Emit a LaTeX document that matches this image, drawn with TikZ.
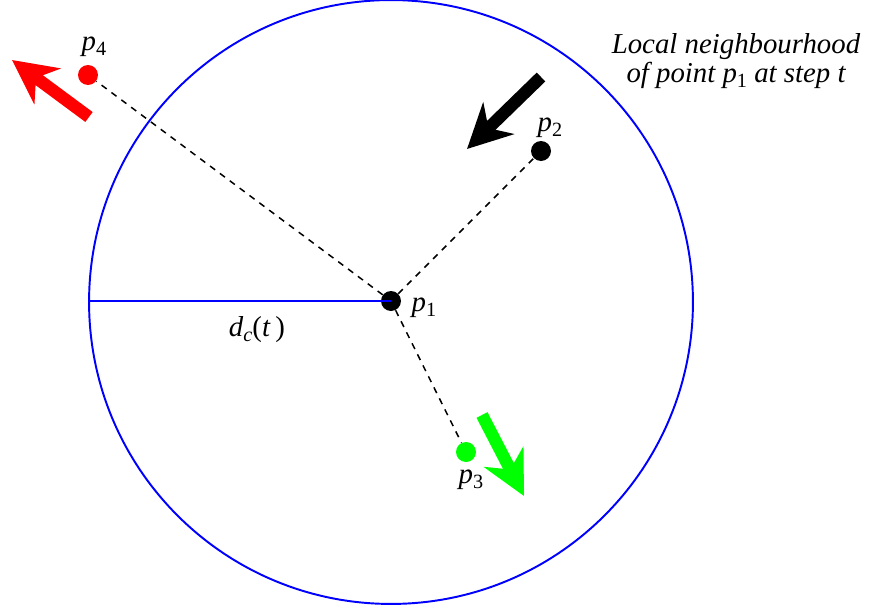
\documentclass[tikz,border=0pt]{standalone}
\usepackage{fontspec}
\setmainfont{Liberation Serif}
\usetikzlibrary{arrows.meta,positioning}

\newcommand{\ptname}[1]{\textit{p}\raisebox{-0.35ex}{\fontsize{11.5}{12}\selectfont\upshape #1}}

\begin{document}
\begin{tikzpicture}[
    x=0.02cm, y=-0.02cm,
    every node/.style={font=\fontsize{16.4}{16.5}\selectfont},
    dot/.style={circle, inner sep=0pt, minimum size=0.4cm},
    lbl/.style={inner sep=1pt},
    link/.style={draw, line width=0.85pt, dash pattern=on 3.6pt off 3.4pt},
    move/.style={line width=7pt, -{Stealth[length=25pt, width=25pt, inset=8pt]}},
]
    \useasboundingbox (0,0) rectangle (873,609);

    % neighbourhood
    \draw[blue, line width=1.1pt] (391,302) circle[radius=6.04cm];

    % points
    \node[dot, fill=black] (p1) at (391,301) {};
    \node[dot, fill=black] (p2) at (541,151) {};
    \node[dot, fill=green] (p3) at (466,452) {};
    \node[dot, fill=red] (p4) at (88,75) {};
    \coordinate (rim) at (89,301);

    \node[lbl] (lp1) at (424,308) {\ptname{1}};
    \node[lbl] (lp2) at (550,128) {\ptname{2}};
    \node[lbl] (lp3) at (471,480) {\ptname{3}};
    \node[lbl] (lp4) at (94,47) {\ptname{4}};

    \draw[link] (p1) -- (p2);
    \draw[link] (p1) -- (p3);
    \draw[link] (p1) -- (p4);
    \draw[blue, line width=1.1pt] (rim) -- (p1.center);
    \node[lbl] (dc) at (257,330)
        {\textit{d}\raisebox{-0.35ex}{\fontsize{11.5}{12}\selectfont\itshape c}(\textit{t}\,)};

    % motion of the points
    \coordinate (a2s) at (541,77);  \coordinate (a2e) at (467,149);
    \coordinate (a3s) at (482,415); \coordinate (a3e) at (524,496);
    \coordinate (a4s) at (89,117);  \coordinate (a4e) at (12,60);
    \draw[move, black] (a2s) -- (a2e);
    \draw[move, green] (a3s) -- (a3e);
    \draw[move, red] (a4s) -- (a4e);

    \node[lbl, align=center] (note) at (736,61)
        {\itshape Local neighbourhood\\\itshape of point \ptname{1} at step t};
\end{tikzpicture}
\end{document}
